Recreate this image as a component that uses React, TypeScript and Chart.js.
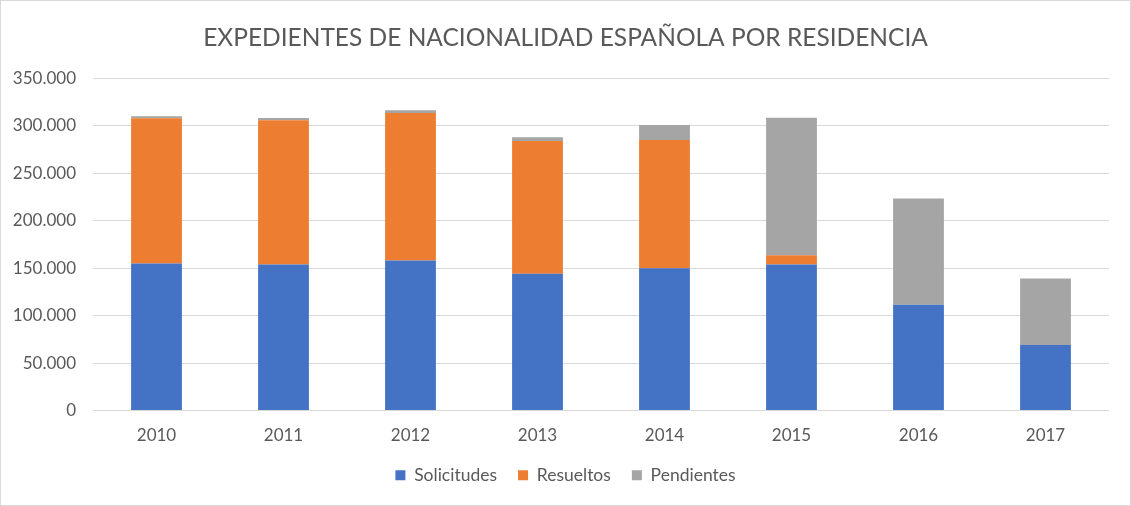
import React, { useEffect, useRef } from "react";
import { Chart, registerables } from "chart.js";

Chart.register(...registerables);

const categories = ["2010", "2011", "2012", "2013", "2014", "2015", "2016", "2017"];
const solicitudes = [155000, 154000, 158000, 144000, 150000, 154000, 111500, 69000];
const resueltos = [153000, 152000, 155500, 140000, 135000, 9500, 0, 0];
const pendientes = [2000, 2200, 3000, 4000, 16000, 145000, 112000, 70000];
const yTicks = [0, 50000, 100000, 150000, 200000, 250000, 300000, 350000];

const TITLE = "EXPEDIENTES DE NACIONALIDAD ESPAÑOLA POR RESIDENCIA";
const FONT = "Lato, 'Open Sans', sans-serif";
const TEXT = "#595959";

function fmt(v: number): string {
  return String(v).replace(/\B(?=(\d{3})+(?!\d))/g, ".");
}

export default function App() {
  const ref = useRef<HTMLCanvasElement | null>(null);
  useEffect(() => {
    document.body.style.margin = "0";
    const ctx = ref.current!;
    const chart = new Chart(ctx, {
      type: "bar",
      data: {
        labels: categories,
        datasets: [
          { label: "Solicitudes", data: solicitudes, backgroundColor: "#4472C4" },
          { label: "Resueltos", data: resueltos, backgroundColor: "#ED7D31" },
          { label: "Pendientes", data: pendientes, backgroundColor: "#A5A5A5" },
        ],
      },
      options: {
        animation: false,
        responsive: false,
        maintainAspectRatio: false,
        datasets: { bar: { categoryPercentage: 1, barPercentage: 0.4 } },
        layout: { padding: { left: 11, right: 11, top: 0, bottom: 11 } },
        plugins: {
          title: {
            display: true,
            text: TITLE,
            color: TEXT,
            font: { family: FONT, size: 24.5, weight: "normal" },
            padding: { top: 22, bottom: 26 },
          },
          legend: {
            position: "bottom",
            labels: {
              color: TEXT,
              font: { family: FONT, size: 17.5 },
              boxWidth: 10,
              boxHeight: 10,
              padding: 21,
            },
          },
          tooltip: { enabled: false },
        },
        scales: {
          x: {
            stacked: true,
            grid: { display: false, drawTicks: false },
            border: { display: false },
            ticks: { color: TEXT, font: { family: FONT, size: 17 }, padding: 15 },
            afterFit: (s: any) => {
              s.height = 35;
            },
          },
          y: {
            stacked: true,
            min: 0,
            max: 350000,
            afterBuildTicks: (s: any) => {
              s.ticks = yTicks.map((v) => ({ value: v }));
            },
            grid: { color: "#D9D9D9", lineWidth: 1, drawTicks: false },
            border: { display: false },
            ticks: {
              color: TEXT,
              font: { family: FONT, size: 17 },
              padding: 17,
              callback: (v: any) => fmt(Number(v)),
            },
            afterFit: (s: any) => {
              s.width = 81;
            },
          },
          yRight: {
            position: "right",
            display: true,
            grid: { display: false, drawTicks: false },
            border: { display: false },
            ticks: { display: false },
            afterFit: (s: any) => {
              s.width = 10;
            },
          },
        },
      },
    });
    return () => chart.destroy();
  }, []);
  return (
    <div
      style={{
        position: "absolute",
        left: 0,
        top: 0,
        width: 1131,
        height: 506,
        boxSizing: "border-box",
        border: "1px solid #D9D9D9",
        background: "#fff",
      }}
    >
      <canvas ref={ref} width={1129} height={504} style={{ display: "block" }} />
    </div>
  );
}
